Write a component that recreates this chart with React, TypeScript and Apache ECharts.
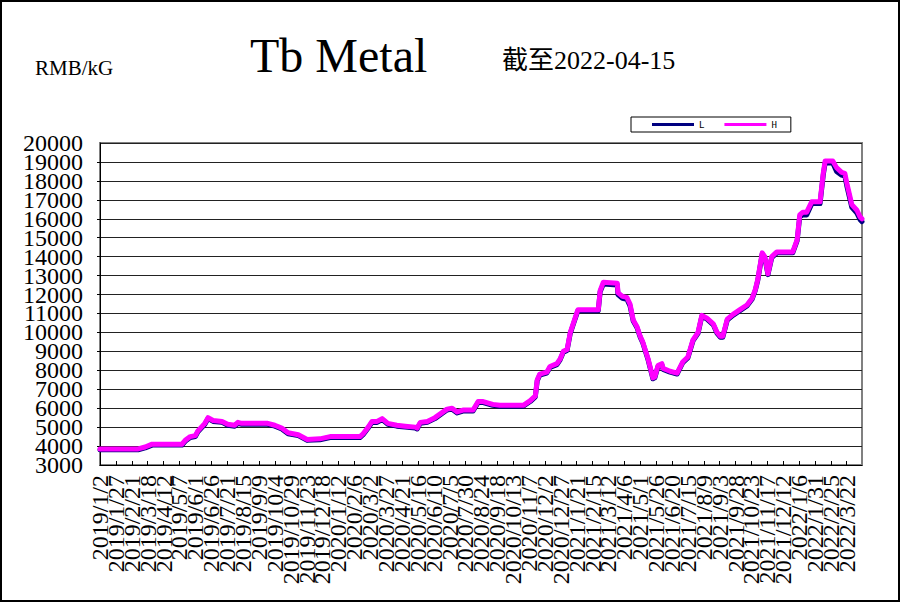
import React, { useEffect, useRef } from "react";
import * as echarts from "echarts";

// Day index counted from 2019/1/2 (calendar days)
const dayIdx = [
  0, 60, 71, 82, 129, 134, 142, 150, 154, 165, 170, 178, 192, 201, 212, 217, 223, 264, 275, 286, 296, 312, 326, 346, 362,
  409, 414, 422, 428, 436, 444, 453, 467, 480, 496, 499, 504, 515, 527, 546, 554, 562, 571, 587, 595, 603, 618, 629, 666, 677, 685,
  688, 692, 703, 708, 719, 724, 729, 735, 740, 744, 751, 752, 784, 787, 792, 814, 815, 822, 829, 834, 839, 845, 850, 854, 862, 870, 873, 878, 884, 886, 897, 908, 917, 925, 933, 941, 947, 955, 965, 971, 976, 980,
  987, 996, 1007, 1018, 1026, 1031, 1035, 1042, 1046, 1051, 1057, 1065, 1090, 1097, 1101, 1106, 1112, 1120, 1133, 1138, 1141, 1153, 1159, 1167, 1172, 1175, 1183, 1191, 1196, 1199,
];

const highVals = [
  3850, 3850, 3950, 4100, 4100, 4300, 4500, 4550, 4800, 5200, 5500, 5350, 5300, 5150, 5100, 5250, 5200, 5200, 5100, 4950, 4700, 4600, 4350, 4380, 4500,
  4500, 4650, 5000, 5300, 5300, 5450, 5200, 5100, 5050, 5000, 4950, 5250, 5300, 5500, 5950, 6000, 5800, 5900, 5900, 6350, 6350, 6200, 6150, 6150, 6400, 6650,
  7500, 7800, 7900, 8200, 8350, 8600, 9000, 9100, 10000, 10400, 11100, 11200, 11200, 12200, 12650, 12600, 12100, 11900, 11850, 11500, 10650, 10300, 9800, 9500, 8650, 7600, 7650, 8250, 8350, 8100, 7950, 7850, 8450, 8700, 9600, 10000, 10900, 10750, 10450, 10000, 9800, 9800,
  10700, 10950, 11200, 11450, 11800, 12250, 12800, 14200, 14000, 13100, 14000, 14250, 14250, 14900, 16200, 16350, 16350, 16900, 16900, 18400, 19050, 19050, 18700, 18450, 18400, 17900, 16750, 16450, 16100, 16000,
];

const lowVals = [
  3800, 3800, 3900, 4050, 4050, 4250, 4450, 4500, 4750, 5150, 5450, 5300, 5250, 5100, 5050, 5200, 5150, 5150, 5050, 4900, 4650, 4550, 4300, 4330, 4450,
  4450, 4600, 4950, 5250, 5250, 5400, 5150, 5050, 5000, 4950, 4900, 5200, 5250, 5450, 5900, 5950, 5750, 5850, 5850, 6300, 6300, 6150, 6100, 6100, 6350, 6600,
  7450, 7750, 7850, 8150, 8300, 8550, 8950, 9050, 9950, 10350, 11050, 11150, 11150, 12150, 12550, 12500, 12000, 11800, 11750, 11400, 10600, 10250, 9750, 9450, 8600, 7550, 7600, 8200, 8300, 8050, 7900, 7800, 8400, 8650, 9550, 9950, 10850, 10700, 10400, 9950, 9750, 9750,
  10650, 10900, 11150, 11400, 11750, 12200, 12750, 14150, 13950, 13050, 13950, 14200, 14200, 14850, 16100, 16200, 16200, 16800, 16800, 18300, 18950, 18950, 18500, 18300, 18250, 17750, 16600, 16300, 15950, 15850,
];

const seriesNames = ["L", "H"];
const startDate = Date.UTC(2019, 0, 2);
const yMin = 3000;
const yMax = 20000;
const yStep = 1000;
const xStep = 25;
const firstDay = 0;
const lastDay = 1199;

const titleText = "Tb Metal";
const unitText = "RMB/kG";
const dateText = "截至2022-04-15";

function dayLabel(v: number): string {
  const d = new Date(startDate + Math.round(v) * 86400000);
  return `${d.getUTCFullYear()}/${d.getUTCMonth() + 1}/${d.getUTCDate()}`;
}

const SERIF = "'Liberation Serif', 'Noto Sans CJK SC', serif";

export default function App() {
  const ref = useRef<HTMLDivElement>(null);
  useEffect(() => {
    if (!ref.current) return;
    const chart = echarts.init(ref.current, undefined, { renderer: "svg" });
    const lowData = dayIdx.map((d, i) => [d, lowVals[i]]);
    const highData = dayIdx.map((d, i) => [d, highVals[i]]);

    const xLabelBase = {
      rotate: 90,
      margin: 10,
      fontSize: 24,
      lineHeight: 14,
      fontFamily: SERIF,
      color: "#000",
      hideOverlap: false,
    };
    const yLabelBase = {
      margin: 17,
      fontSize: 24,
      lineHeight: 17,
      fontFamily: SERIF,
      color: "#000",
      hideOverlap: false,
    };
    const hidden = { show: false };

    chart.setOption({
      animation: false,
      backgroundColor: "#fff",
      graphic: [
        {
          type: "rect",
          shape: { x: 1, y: 1, width: 898, height: 600 },
          style: { fill: "none", stroke: "#000", lineWidth: 2 },
          silent: true,
        },
        {
          type: "text",
          x: 250,
          y: 55,
          style: { text: titleText, font: `48px ${SERIF}`, fill: "#000", verticalAlign: "middle", align: "left" },
        },
        {
          type: "text",
          x: 35,
          y: 68,
          style: { text: unitText, font: `21px ${SERIF}`, fill: "#000", verticalAlign: "middle", align: "left" },
        },
        {
          type: "text",
          x: 502,
          y: 60,
          style: { text: dateText, font: `26px ${SERIF}`, fill: "#000", verticalAlign: "middle", align: "left" },
        },
      ],
      legend: {
        data: seriesNames,
        left: 631,
        top: 117,
        padding: [3, 14, 3, 21],
        itemWidth: 42,
        itemHeight: 3,
        itemGap: 20,
        icon: "rect",
        borderColor: "#000",
        borderWidth: 1,
        borderRadius: 0,
        backgroundColor: "#fff",
        textStyle: { fontSize: 9, fontFamily: "'DejaVu Sans Mono', monospace", color: "#000" },
      },
      grid: {
        left: 100,
        right: 39,
        top: 143,
        bottom: 138,
        show: true,
        borderColor: "#808080",
        borderWidth: 2,
        backgroundColor: "#fff",
      },
      xAxis: [
        {
          type: "value",
          position: "bottom",
          min: firstDay,
          max: lastDay,
          interval: xStep,
          axisLine: { show: true, lineStyle: { color: "#000", width: 1 } },
          axisTick: { show: true, inside: true, length: 4, lineStyle: { color: "#000" } },
          splitLine: hidden,
          axisLabel: {
            ...xLabelBase,
            showMaxLabel: false,
            showMinLabel: false,
            formatter: (v: number) => dayLabel(v),
          },
        },
        {
          type: "value",
          position: "bottom",
          offset: 0,
          min: firstDay,
          max: lastDay,
          interval: xStep,
          axisLine: hidden,
          axisTick: hidden,
          splitLine: hidden,
          axisLabel: {
            ...xLabelBase,
            showMaxLabel: false,
            showMinLabel: true,
            formatter: (v: number) => (v === firstDay ? dayLabel(v) : ""),
          },
        },
      ],
      yAxis: [
        {
          type: "value",
          position: "left",
          min: yMin,
          max: yMax,
          interval: yStep,
          axisLine: { show: true, lineStyle: { color: "#000", width: 1 } },
          axisTick: { show: true, length: 3, lineStyle: { color: "#000" } },
          splitLine: { show: true, lineStyle: { color: "#222", width: 1 } },
          axisLabel: {
            ...yLabelBase,
            showMinLabel: false,
            showMaxLabel: false,
            formatter: (v: number) => String(v),
          },
        },
        {
          type: "value",
          position: "left",
          offset: 0,
          min: yMin,
          max: yMax,
          interval: yStep,
          axisLine: hidden,
          axisTick: hidden,
          splitLine: hidden,
          axisLabel: {
            ...yLabelBase,
            showMinLabel: true,
            showMaxLabel: true,
            formatter: (v: number) => (v === yMin || v === yMax ? String(v) : ""),
          },
        },
      ],
      series: [
        {
          name: seriesNames[0],
          type: "line",
          data: lowData,
          showSymbol: false,
          symbol: "none",
          color: "#000080",
          lineStyle: { width: 5, color: "#000080", cap: "round", join: "round" },
          z: 2,
        },
        {
          name: seriesNames[1],
          type: "line",
          data: highData,
          showSymbol: false,
          symbol: "none",
          color: "#FF00FF",
          lineStyle: { width: 5, color: "#FF00FF", cap: "round", join: "round" },
          z: 3,
        },
      ],
    });
    return () => chart.dispose();
  }, []);
  return (
    <div
      ref={ref}
      style={{ position: "absolute", left: 0, top: 0, width: 901, height: 603, background: "#fff" }}
    />
  );
}
